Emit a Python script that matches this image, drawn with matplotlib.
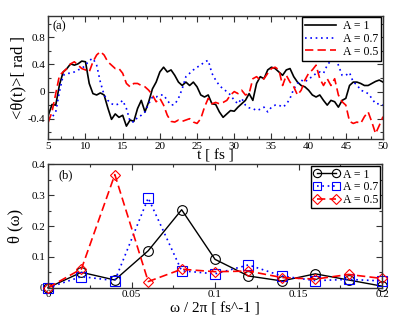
import numpy as np
import matplotlib
matplotlib.use("Agg")
import matplotlib.pyplot as plt
from matplotlib.ticker import MultipleLocator, AutoMinorLocator

plt.rcParams['font.family'] = ['Liberation Serif', 'DejaVu Serif']

# ---------------- data: panel (a) ----------------
t_start, t_end = 5.0, 50.0
theta_A1 = [
    -0.35, -0.19, -0.20, 0.10, 0.29, 0.34, 0.41, 0.39, 0.41, 0.45,
    0.44, 0.12, -0.03, -0.05, -0.02, -0.05, -0.24, -0.41, -0.33, -0.38,
    -0.35, -0.51, -0.42, -0.44, -0.25, -0.13, -0.30, -0.15, 0.04, 0.14,
    0.29, 0.36, 0.29, 0.32, 0.24, 0.14, 0.09, 0.14, 0.09, 0.14,
    0.07, -0.05, -0.08, -0.05, -0.18, -0.19, -0.30, -0.38, -0.33, -0.28,
    -0.29, -0.23, -0.18, -0.13, -0.03, -0.13, 0.12, 0.22, 0.19, 0.32,
    0.36, 0.34, 0.29, 0.24, 0.32, 0.34, 0.22, 0.14, 0.09, 0.07,
    0.02, -0.05, -0.08, -0.05, -0.13, -0.20, -0.13, -0.15, -0.23, -0.13,
    -0.10, 0.09, 0.14, 0.14, 0.12, 0.09, 0.09, 0.12, 0.15, 0.17,
    0.14]
theta_A07 = [
    -0.40, -0.38, -0.30, 0.00, 0.24, 0.27, 0.27, 0.29, 0.32, 0.34,
    0.39, 0.46, 0.49, 0.39, 0.14, -0.05, -0.13, -0.18, -0.20, -0.18,
    -0.13, -0.25, -0.44, -0.45, -0.38, -0.35, -0.30, -0.18, -0.08, -0.08,
    -0.05, -0.05, -0.13, -0.20, -0.19, -0.10, 0.04, 0.22, 0.27, 0.32,
    0.36, 0.39, 0.44, 0.46, 0.27, 0.17, 0.09, 0.04, 0.00, -0.05,
    -0.13, -0.18, -0.10, -0.20, -0.24, -0.25, -0.28, -0.26, -0.23, -0.30,
    -0.23, -0.20, -0.20, -0.23, -0.19, -0.10, 0.04, 0.12, 0.17, 0.14,
    0.19, 0.22, 0.27, 0.29, 0.27, 0.39, 0.46, 0.55, 0.39, 0.24,
    0.24, 0.28, 0.14, 0.10, 0.02, 0.00, -0.03, -0.10, -0.18, -0.18,
    -0.20]
theta_A05 = [
    -0.45, -0.30, -0.03, 0.24, 0.29, 0.34, 0.41, 0.44, 0.39, 0.34,
    0.32, 0.29, 0.44, 0.54, 0.59, 0.54, 0.44, 0.39, 0.34, 0.34,
    0.27, 0.12, 0.07, 0.12, 0.12, 0.09, 0.07, 0.02, -0.05, -0.15,
    -0.10, -0.20, -0.35, -0.44, -0.45, -0.42, -0.44, -0.42, -0.40, -0.45,
    -0.47, -0.40, -0.23, -0.10, -0.18, -0.16, -0.18, -0.16, -0.13, -0.05,
    0.00, -0.03, 0.02, -0.05, -0.03, 0.19, 0.22, 0.17, 0.19, 0.27,
    0.34, 0.36, 0.32, 0.09, 0.24, 0.14, 0.07, -0.05, 0.02, 0.17,
    0.27, 0.32, 0.39, 0.19, 0.09, 0.19, 0.09, 0.19, -0.05, -0.15,
    -0.20, -0.44, -0.47, -0.45, -0.47, -0.37, -0.30, -0.45, -0.62, -0.50,
    -0.37]
labels = ["A = 1", "A = 0.7", "A = 0.5"]
xticks_a = [5, 10, 15, 20, 25, 30, 35, 40, 45, 50]
yticks_a = [-0.4, 0, 0.4, 0.8]
yticklabels_a = ["-0.4", "0", "0.4", "0.8"]

# ---------------- data: panel (b) ----------------
freq = [0.0, 0.02, 0.04, 0.06, 0.08, 0.10, 0.12, 0.14, 0.16, 0.18, 0.20]
spec_A1 = [0.0, 0.050, 0.025, 0.120, 0.253, 0.092, 0.038, 0.022, 0.045, 0.025, 0.005]
spec_A07 = [0.0, 0.036, 0.023, 0.291, 0.055, 0.045, 0.074, 0.038, 0.023, 0.027, 0.022]
spec_A05 = [0.0, 0.061, 0.367, 0.020, 0.060, 0.052, 0.054, 0.033, 0.028, 0.043, 0.030]
xticks_b = [0, 0.05, 0.1, 0.15, 0.2]
xticklabels_b = ["0", "0.05", "0.1", "0.15", "0.2"]
yticks_b = [0, 0.1, 0.2, 0.3, 0.4]
yticklabels_b = ["0", "0.1", "0.2", "0.3", "0.4"]

t = np.linspace(t_start, t_end, len(theta_A1))

fig = plt.figure(figsize=(4.15, 3.21), dpi=100)
ax1 = fig.add_axes([0.1164, 0.567, 0.8065, 0.384])
ax2 = fig.add_axes([0.1157, 0.1037, 0.805, 0.384])

frame_col = '#333333'

def style(ax):
    for s in ax.spines.values():
        s.set_linewidth(1.0)
        s.set_color(frame_col)
    ax.tick_params(which='both', direction='in', top=True, right=True,
                   labelsize=8, color=frame_col)
    ax.tick_params(which='major', length=4, width=0.8, pad=2)
    ax.tick_params(which='minor', length=2, width=0.8)

# panel (a)
ax1.plot(t, theta_A1, color='black', lw=1.2, ls='-', label=labels[0])
ax1.plot(t, theta_A07, color='blue', lw=1.2, ls=(0, (1, 2.2)), label=labels[1])
ax1.plot(t, theta_A05, color='red', lw=1.2, ls=(0, (5, 2.5)), label=labels[2])
ax1.set_xlim(t_start, t_end)
ax1.set_ylim(-0.7, 1.12)
ax1.set_xticks(xticks_a)
ax1.xaxis.set_minor_locator(AutoMinorLocator(3))
ax1.set_yticks(yticks_a)
ax1.set_yticklabels(yticklabels_a)
ax1.yaxis.set_minor_locator(MultipleLocator(0.2))
style(ax1)
ax1.set_xlabel("t [ fs ]", fontsize=11, labelpad=-1)
ax1.set_ylabel("<θ(t)>[ rad ]", fontsize=12, labelpad=1)
ax1.text(0.012, 0.96, "(a)", transform=ax1.transAxes, fontsize=9, va='top', ha='left')
leg1 = ax1.legend(loc='upper right', fontsize=8.5, frameon=True, fancybox=False,
                  edgecolor='black', framealpha=1, borderpad=0.25, labelspacing=0.05,
                  handlelength=2.6, handletextpad=0.6, borderaxespad=0.15)
leg1.get_frame().set_linewidth(1.0)

# panel (b)
ax2.plot(freq, spec_A1, color='black', lw=1.0, ls='-', marker='o', ms=7,
         mfc='none', mec='black', mew=0.8, label=labels[0])
ax2.plot(freq, spec_A07, color='blue', lw=1.2, ls=(0, (1, 2.2)), marker='s', ms=6.5,
         mfc='none', mec='blue', mew=0.8, label=labels[1])
ax2.plot(freq, spec_A05, color='red', lw=1.2, ls=(0, (5, 2.5)), marker='D', ms=5.5,
         mfc='none', mec='red', mew=0.8, label=labels[2])
ax2.set_xlim(0, 0.2)
ax2.set_ylim(0, 0.4)
ax2.set_xticks(xticks_b)
ax2.set_xticklabels(xticklabels_b)
ax2.xaxis.set_minor_locator(MultipleLocator(0.025))
ax2.set_yticks(yticks_b)
ax2.set_yticklabels(yticklabels_b)
ax2.yaxis.set_minor_locator(MultipleLocator(0.05))
style(ax2)
for ln in ax2.lines:
    ln.set_clip_on(False)
ax2.set_xlabel("ω / 2π [ fs^-1 ]", fontsize=11, labelpad=2)
ax2.set_ylabel("θ (ω)", fontsize=12, labelpad=6)
ax2.text(0.03, 0.96, "(b)", transform=ax2.transAxes, fontsize=9, va='top', ha='left')
leg2 = ax2.legend(loc='upper right', fontsize=8.5, frameon=True, fancybox=False,
                  edgecolor='black', framealpha=1, borderpad=0.2, labelspacing=0.05,
                  handlelength=2.2, handletextpad=0.3, borderaxespad=0.15,
                  numpoints=2, markerscale=0.85)
leg2.get_frame().set_linewidth(1.0)

fig.savefig("out.png", dpi=100)
